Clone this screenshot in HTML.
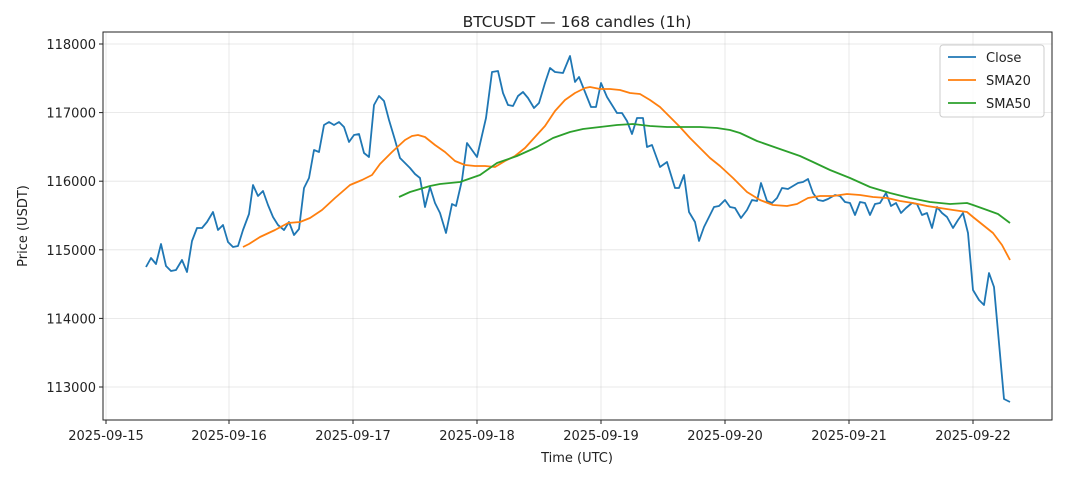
<!DOCTYPE html>
<html><head><meta charset="utf-8"><style>
body{margin:0;background:#fff}
svg text{font-family:"DejaVu Sans","Liberation Sans",sans-serif;fill:#222}
</style></head><body>
<svg width="1068" height="481" xmlns="http://www.w3.org/2000/svg">
<rect width="1068" height="481" fill="#fff"/>
<g stroke="#b0b0b0" stroke-opacity="0.35" stroke-width="0.8">
<line x1="106" y1="32" x2="106" y2="420"/><line x1="229" y1="32" x2="229" y2="420"/><line x1="353" y1="32" x2="353" y2="420"/><line x1="477" y1="32" x2="477" y2="420"/><line x1="601" y1="32" x2="601" y2="420"/><line x1="725" y1="32" x2="725" y2="420"/><line x1="849" y1="32" x2="849" y2="420"/><line x1="973" y1="32" x2="973" y2="420"/>
<line x1="103" y1="44" x2="1052" y2="44"/><line x1="103" y1="112.6" x2="1052" y2="112.6"/><line x1="103" y1="181.2" x2="1052" y2="181.2"/><line x1="103" y1="249.8" x2="1052" y2="249.8"/><line x1="103" y1="318.4" x2="1052" y2="318.4"/><line x1="103" y1="387" x2="1052" y2="387"/>
</g>
<g fill="none" stroke-width="1.8" stroke-linejoin="round">
<polyline stroke="#1f77b4" points="146,267 151,258 156,264 161,244 166,266 171,271 176,270 182,260 187,272 192,241 197,228 202,228 207,222 213,212 218,230 223,225 228,242 233,247 238,246 243,230 249,214 253,185 258,196 263,191 268,205 273,217 278,225 284,230 289,222 294,235 299,229 304,188 309,178 314,150 319,152 324,125 329,122 334,125 339,122 344,127 349,142 354,135 359,134 364,153 369,157 374,105 379,96 384,101 389,120 395,140 400,158 405,163 410,168 415,174 420,178 425,207 430,187 435,203 440,213 446,233 452,204 456,206 462,180 467,143 477,157 486,118 492,72 498,71 503,93 508,105 513,106 518,96 523,92 528,98 534,108 539,103 545,83 550,68 555,72 563,73 570,56 575,82 579,77 583,87 591,107 596,107 601,83 607,97 617,113 622,113 627,121 632,134 637,118 643,118 647,147 652,145 660,167 667,162 675,188 679,188 684,175 689,212 695,222 699,241 704,227 714,207 719,206 725,200 730,207 735,208 741,218 747,210 752,200 757,201 761,183 767,201 772,203 777,198 782,188 788,189 793,186 798,183 803,182 808,179 813,193 818,200 823,201 828,199 835,195 840,196 845,202 850,203 855,215 860,202 865,203 870,215 875,204 880,203 886,193 891,206 896,203 901,213 906,208 912,203 917,204 922,215 927,213 932,228 937,207 942,213 947,217 953,228 958,220 963,213 968,233 973,290 979,300 984,305 989,273 994,287 999,343 1004,399 1010,402"/>
<polyline stroke="#ff7f0e" points="243,247 249,244 260,237 275,230 288,223 300,222 310,218 322,210 335,198 350,185 362,180 372,175 380,164 392,152 405,140 412,136 418,135 425,137 435,145 445,152 455,161 465,165 475,166 485,166 495,167 505,161 515,156 525,148 535,137 545,126 555,111 565,100 575,93 585,88 590,87 600,89 610,89 620,90 630,93 640,94 650,100 660,107 670,117 680,127 690,138 700,148 710,158 720,166 733,178 747,192 760,200 773,205 787,206 797,204 808,198 820,196 833,196 847,194 860,195 873,197 887,198 900,201 913,203 927,206 940,208 953,210 967,212 973,217 983,225 993,233 1002,245 1010,260"/>
<polyline stroke="#2ca02c" points="399,197 410,192 420,189 430,186 440,184 460,182 480,175 497,163 517,156 537,147 553,138 570,132 583,129 600,127 617,125 633,124 650,126 667,127 683,127 700,127 717,128 730,130 740,133 757,141 777,148 800,156 813,162 830,170 850,178 870,187 890,193 910,198 930,202 950,204 967,203 973,205 987,210 998,214 1010,223"/>
</g>
<rect x="103" y="32" width="949" height="388" fill="none" stroke="#222" stroke-width="1"/>
<g stroke="#222" stroke-width="1">
<line x1="106" y1="420" x2="106" y2="424"/><line x1="229" y1="420" x2="229" y2="424"/><line x1="353" y1="420" x2="353" y2="424"/><line x1="477" y1="420" x2="477" y2="424"/><line x1="601" y1="420" x2="601" y2="424"/><line x1="725" y1="420" x2="725" y2="424"/><line x1="849" y1="420" x2="849" y2="424"/><line x1="973" y1="420" x2="973" y2="424"/>
<line x1="99" y1="44" x2="103" y2="44"/><line x1="99" y1="112.6" x2="103" y2="112.6"/><line x1="99" y1="181.2" x2="103" y2="181.2"/><line x1="99" y1="249.8" x2="103" y2="249.8"/><line x1="99" y1="318.4" x2="103" y2="318.4"/><line x1="99" y1="387" x2="103" y2="387"/>
</g>
<g font-size="13" text-anchor="middle">
<text x="106" y="440">2025-09-15</text><text x="229" y="440">2025-09-16</text><text x="353" y="440">2025-09-17</text><text x="477" y="440">2025-09-18</text><text x="601" y="440">2025-09-19</text><text x="725" y="440">2025-09-20</text><text x="849" y="440">2025-09-21</text><text x="973" y="440">2025-09-22</text>
</g>
<g font-size="13" text-anchor="end">
<text x="96" y="49">118000</text><text x="96" y="117.6">117000</text><text x="96" y="186.2">116000</text><text x="96" y="254.8">115000</text><text x="96" y="323.4">114000</text><text x="96" y="392">113000</text>
</g>
<text x="577" y="462" font-size="13" text-anchor="middle">Time (UTC)</text>
<text x="27" y="226" font-size="13" text-anchor="middle" transform="rotate(-90 27 226)">Price (USDT)</text>
<text x="577" y="27" font-size="15.5" text-anchor="middle">BTCUSDT — 168 candles (1h)</text>
<rect x="940" y="45" width="104" height="72" rx="3" fill="#fff" fill-opacity="0.8" stroke="#ccc"/>
<line x1="948" y1="57" x2="976" y2="57" stroke="#1f77b4" stroke-width="1.8"/>
<line x1="948" y1="80" x2="976" y2="80" stroke="#ff7f0e" stroke-width="1.8"/>
<line x1="948" y1="103" x2="976" y2="103" stroke="#2ca02c" stroke-width="1.8"/>
<g font-size="13"><text x="986" y="62">Close</text><text x="986" y="85">SMA20</text><text x="986" y="108">SMA50</text></g>
</svg>
</body></html>
